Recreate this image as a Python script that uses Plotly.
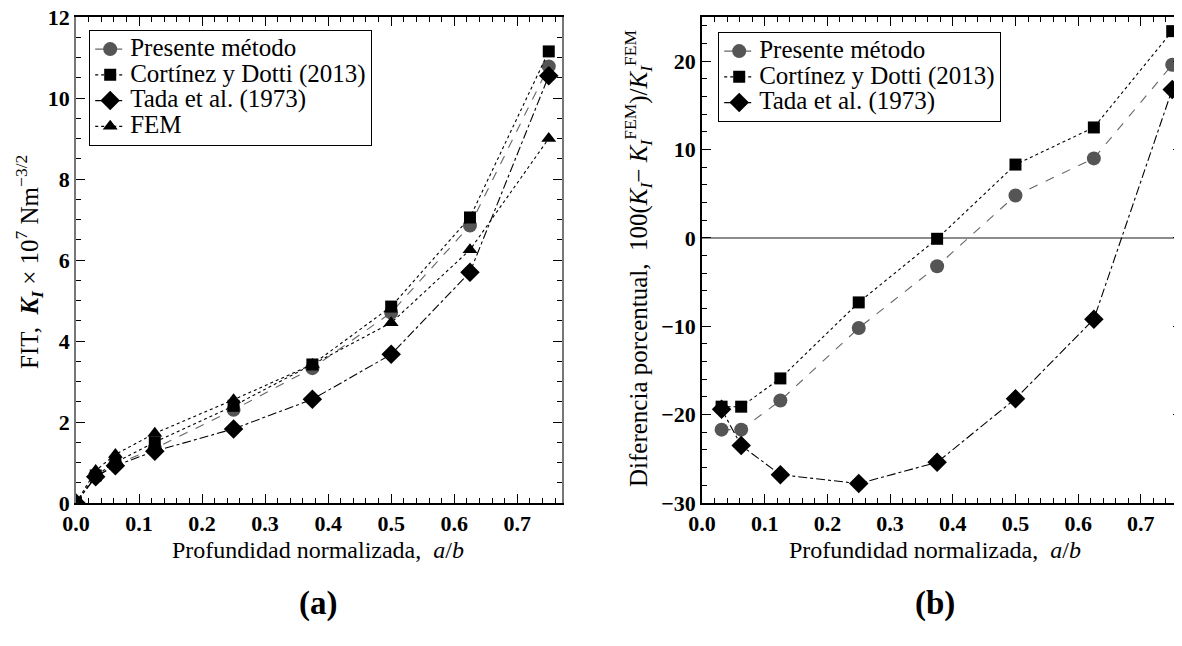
import plotly.graph_objects as go

# ---- data ----
x_a = [0.0, 0.03125, 0.0625, 0.125, 0.25, 0.375, 0.5, 0.625, 0.75]
presente_a = [0.0, 0.65, 0.95, 1.35, 2.30, 3.33, 4.70, 6.85, 10.78]
cortinez_a = [0.0, 0.68, 1.00, 1.50, 2.40, 3.42, 4.85, 7.05, 11.15]
tada_a = [0.0, 0.65, 0.92, 1.28, 1.83, 2.56, 3.67, 5.70, 10.55]
fem_a = [0.0, 0.80, 1.20, 1.72, 2.55, 3.42, 4.45, 6.25, 9.00]

x_b = [0.03125, 0.0625, 0.125, 0.25, 0.375, 0.5, 0.625, 0.75]
presente_b = [-21.7, -21.7, -18.4, -10.2, -3.2, 4.8, 9.0, 19.6]
cortinez_b = [-19.1, -19.1, -15.9, -7.3, -0.1, 8.3, 12.5, 23.4]
tada_b = [-19.4, -23.5, -26.8, -27.8, -25.4, -18.2, -9.2, 16.8]

names = ["Presente método", "Cortínez y Dotti (2013)", "Tada et al. (1973)", "FEM"]

SERIF = "Liberation Serif"
W, H = 1182, 646
OFF = 8  # page body margin offset
LEG_TXT = 25

def fx(px):  # reference pixel x -> paper fraction
    return (px - OFF) / W

def fy(py):  # reference pixel y -> paper fraction
    return 1 - (py - OFF) / H

styles = {
    "Presente método": dict(symbol="circle", size=14, mcolor="#555555", lcolor="#666666", dash="dash"),
    "Cortínez y Dotti (2013)": dict(symbol="square", size=12, mcolor="black", lcolor="black", dash="dot"),
    "Tada et al. (1973)": dict(symbol="diamond", size=15, mcolor="black", lcolor="black", dash="dashdot"),
    "FEM": dict(symbol="triangle-up", size=13, mcolor="black", lcolor="black", dash="dot"),
}

fig = go.Figure()

def add(x, y, name, xa, ya, legend):
    s = styles[name]
    fig.add_trace(go.Scatter(
        x=x, y=y, mode="lines+markers",
        name=f'<span style="font-size:{LEG_TXT}px">{name}</span>',
        hovertemplate=name + ": %{y}<extra></extra>",
        xaxis=xa, yaxis=ya, legend=legend,
        line=dict(color=s["lcolor"], width=1.1, dash=s["dash"]),
        marker=dict(symbol=s["symbol"], size=s["size"], color=s["mcolor"], line=dict(width=0)),
    ))

for nm, ys in zip(names, [presente_a, cortinez_a, tada_a, fem_a]):
    add(x_a, ys, nm, "x", "y", "legend")
for nm, ys in zip(names[:3], [presente_b, cortinez_b, tada_b]):
    add(x_b, ys, nm, "x2", "y2", "legend2")

# zero line in (b)
fig.add_shape(type="line", xref="x2 domain", yref="y2", x0=0, x1=1, y0=0, y1=0,
              line=dict(color="#666666", width=1.5), layer="below")

tickfont = dict(family=SERIF, size=22, color="black", weight="bold")

def axis(domain, rng, dtick, minor_dtick, lcolor="black"):
    return dict(
        domain=domain, range=rng, dtick=dtick, tick0=0,
        showgrid=False, zeroline=False, automargin=False, ticklabeloverflow="allow",
        showline=True, linecolor=lcolor, linewidth=1.6, mirror="allticks",
        ticks="inside", ticklen=9, tickwidth=1.3, tickcolor="black",
        tickfont=tickfont,
        minor=dict(dtick=minor_dtick, ticks="inside", ticklen=5, tickwidth=1.1, tickcolor="black", showgrid=False),
    )

ydom = [fy(503), fy(17)]
legfont = dict(family=SERIF, size=17.5, color="black")
fig.update_layout(
    width=W, height=H,
    margin=dict(l=0, r=0, t=0, b=0, autoexpand=False),
    plot_bgcolor="white", paper_bgcolor="white",
    font=dict(family=SERIF, color="black"),
    xaxis=dict(axis([fx(76), fx(562)], [0, 0.771], 0.1, 0.02), anchor="y", tickformat=".1f"),
    yaxis=dict(axis(ydom, [0, 12], 2, 0.5, lcolor="#777777"), anchor="x"),
    xaxis2=dict(axis([fx(702), min(1.0, fx(1182))], [0, 0.7656], 0.1, 0.02), anchor="y2", tickformat=".1f"),
    yaxis2=dict(axis(ydom, [-30, 25], 10, 2), anchor="x2"),
    legend=dict(
        x=fx(89), y=fy(30), xanchor="left", yanchor="top",
        bordercolor="black", borderwidth=1.2, bgcolor="white",
        font=legfont, itemwidth=30, tracegroupgap=0,
    ),
    legend2=dict(
        x=fx(718), y=fy(32), xanchor="left", yanchor="top",
        bordercolor="black", borderwidth=1.2, bgcolor="white",
        font=legfont, itemwidth=30, tracegroupgap=0,
    ),
    showlegend=True,
)

ann_font = dict(family=SERIF, size=24, color="black")

def ann(x, y, text, font, angle=0):
    fig.add_annotation(x=fx(x), y=fy(y), xref="paper", yref="paper", xanchor="center", yanchor="middle",
                       text=text, showarrow=False, font=font, textangle=angle)

ann(318, 550, "Profundidad normalizada,  <i>a</i>/<i>b</i>", ann_font)
ann(935, 550, "Profundidad normalizada,  <i>a</i>/<i>b</i>", ann_font)
ann(29, 262, "FIT,  <b><i>K</i><sub><i>I</i></sub></b> × 10<sup>7</sup> Nm<sup>−3/2</sup>",
    dict(family=SERIF, size=25, color="black"), -90)
ann(638, 259, "Diferencia porcentual,  100(<i>K</i><sub><i>I</i></sub>− <i>K</i><sub><i>I</i></sub><sup>FEM</sup>)/<i>K</i><sub><i>I</i></sub><sup>FEM</sup>",
    dict(family=SERIF, size=25, color="black"), -90)
ann(318, 603, "<b>(a)</b>", dict(family=SERIF, size=33, color="black"))
ann(935, 603, "<b>(b)</b>", dict(family=SERIF, size=33, color="black"))

fig.write_html("out.html")
